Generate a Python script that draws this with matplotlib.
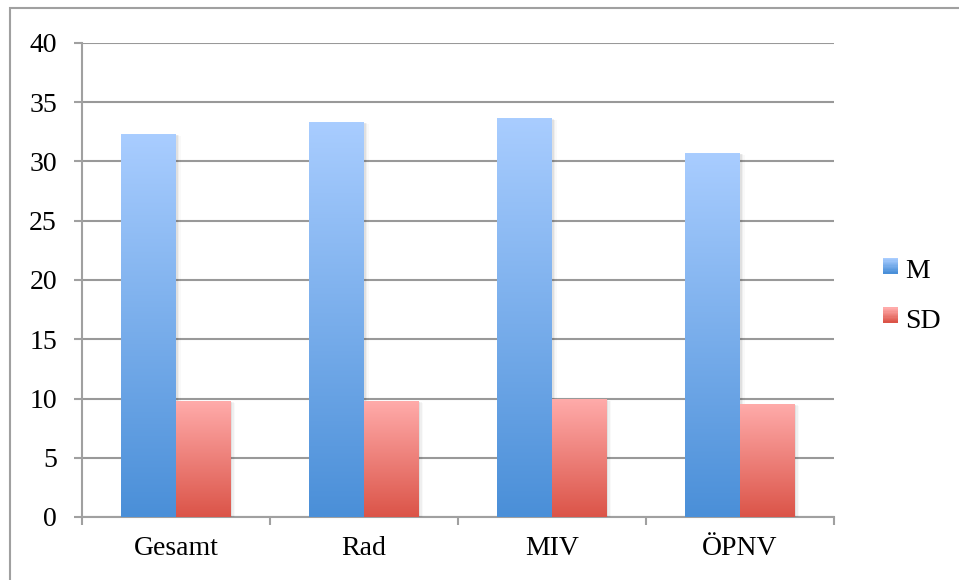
import numpy as np
import matplotlib
matplotlib.use("Agg")
import matplotlib.pyplot as plt
from matplotlib.colors import LinearSegmentedColormap, to_rgb
from matplotlib.patches import Rectangle
from matplotlib.legend_handler import HandlerBase

categories = ["Gesamt", "Rad", "MIV", "ÖPNV"]
m_values = [32.3, 33.3, 33.6, 30.7]
sd_values = [9.75, 9.75, 9.9, 9.5]
series_names = ["M", "SD"]
yticks = [0, 5, 10, 15, 20, 25, 30, 35, 40]

blue_top, blue_bot = "#a9cdff", "#4a8fd8"
red_top, red_bot = "#ffabaa", "#db5448"

plt.rcParams['font.family'] = ['Liberation Serif', 'DejaVu Serif']
FS = 20

W, H = 959, 580
fig = plt.figure(figsize=(W / 100, H / 100), dpi=100)
ax = fig.add_axes([82 / W, 1 - 517 / H, (834 - 82) / W, (517 - 43) / H])

# outer frame
fig.patches.append(Rectangle((10 / W, -0.1), 1.2, 1 - 8 / H + 0.1, transform=fig.transFigure,
                             fill=False, edgecolor="#a0a0a0", lw=1.5, zorder=0))

bw = 0.29
x = np.arange(len(categories))


def grad_bar(x0, x1, h, ctop, cbot):
    cmap = LinearSegmentedColormap.from_list("g", [cbot, ctop])
    grad = np.linspace(1, 0, 256).reshape(-1, 1)
    for i, a in enumerate([0.06, 0.04, 0.025]):
        d = 0.004 * (i + 1)
        ax.add_patch(Rectangle((x0 + d, -0.1), (x1 - x0) + d, h + 0.1 - d * 10,
                               facecolor="black", alpha=a, lw=0, zorder=2))
    ax.imshow(grad, extent=[x0, x1, 0, h], aspect="auto", cmap=cmap, vmin=0, vmax=1,
              zorder=3, interpolation="bilinear")


for xi, mv, sv in zip(x, m_values, sd_values):
    grad_bar(xi - bw, xi, mv, blue_top, blue_bot)
    grad_bar(xi, xi + bw, sv, red_top, red_bot)

ax.set_xlim(-0.5, len(categories) - 0.5)
ax.set_ylim(0, 40)
ax.set_yticks(yticks)
ax.set_xticks(x)
ax.set_xticklabels(categories)
ax.set_xticks(np.arange(-0.5, len(categories), 1.0), minor=True)
ax.tick_params(axis="x", which="major", length=0, pad=14, labelsize=FS)
ax.tick_params(axis="x", which="minor", length=6, width=1.5, color="#a0a0a0", direction="out")
ax.tick_params(axis="y", length=6, width=1.5, color="#a0a0a0", direction="out", pad=12, labelsize=FS)
ax.grid(axis="y", color="#999999", lw=1.5, zorder=1)
ax.set_axisbelow(True)
for s in ["top", "right"]:
    ax.spines[s].set_visible(False)
for s in ["left", "bottom"]:
    ax.spines[s].set_color("#a0a0a0")
    ax.spines[s].set_linewidth(1.5)
    ax.spines[s].set_zorder(1)


class GradHandler(HandlerBase):
    def __init__(self, ctop, cbot):
        super().__init__()
        self.ctop, self.cbot = ctop, cbot

    def create_artists(self, legend, orig_handle, xdescent, ydescent, width, height, fontsize, trans):
        arts = []
        n = 12
        s = width
        x0 = -xdescent
        y0 = -ydescent + (height - s) / 2 + height * 0.12
        c1, c2 = np.array(to_rgb(self.ctop)), np.array(to_rgb(self.cbot))
        for i in range(n):
            t = i / (n - 1)
            col = c1 * (1 - t) + c2 * t
            r = Rectangle((x0, y0 + s * (1 - (i + 1) / n)), s, s / n + 0.3, facecolor=col, lw=0,
                          transform=trans)
            arts.append(r)
        return arts


h1 = Rectangle((0, 0), 1, 1)
h2 = Rectangle((0, 0), 1, 1)
leg = fig.legend([h1, h2], series_names, loc="center left", bbox_to_anchor=(883 / W, 1 - 296 / H),
                 frameon=False, fontsize=FS, handlelength=0.55, handletextpad=0.25, labelspacing=0.87,
                 borderpad=0, borderaxespad=0,
                 handler_map={h1: GradHandler(blue_top, blue_bot), h2: GradHandler(red_top, red_bot)})

fig.savefig("out.png", dpi=100)
